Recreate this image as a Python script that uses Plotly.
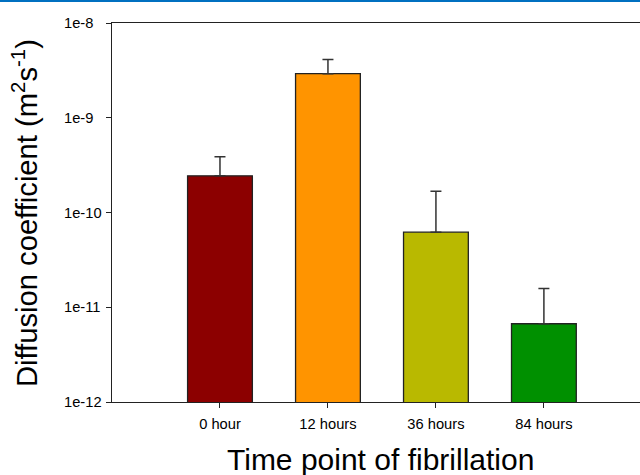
import math
import plotly.graph_objects as go

categories = ["0 hour", "12 hours", "36 hours", "84 hours"]
values = [2.44e-10, 2.92e-9, 6.2e-11, 6.7e-12]
err_upper = [1.44e-10, 1.2e-9, 1.06e-10, 9.1e-12]
colors = ["#8C0000", "#FF9400", "#B9B900", "#009000"]
ytick_vals = [1e-12, 1e-11, 1e-10, 1e-9, 1e-8]
ytick_text = ["1e-12", "1e-11", "1e-10", "1e-9", "1e-8"]

fig = go.Figure()
fig.add_trace(go.Bar(
    x=list(range(len(categories))),
    y=values,
    width=0.6,
    marker=dict(color=colors, line=dict(color="#222222", width=1.3)),
    error_y=dict(type="data", symmetric=False, array=err_upper,
                 arrayminus=[0] * len(values),
                 color="#333333", thickness=1.5, width=5.5),
))

fig.update_layout(
    width=640, height=475,
    margin=dict(l=112, r=0, t=23, b=73),
    paper_bgcolor="white", plot_bgcolor="white",
    showlegend=False,
    font=dict(family="Arial, Liberation Sans, sans-serif", color="black"),
    xaxis=dict(
        range=[-1, 3.89],
        tickvals=list(range(len(categories))),
        ticktext=categories,
        ticks="outside", ticklen=5, tickwidth=1.3, tickcolor="#222222",
        showline=True, linecolor="#222222", linewidth=1.3,
        mirror=True, showgrid=False, zeroline=False,
        tickfont=dict(size=14.7, color="black"),
        ticklabelstandoff=3,
    ),
    yaxis=dict(
        type="log", range=[-12, -8],
        tickvals=ytick_vals,
        showticklabels=False,
        ticks="outside", ticklen=5, tickwidth=1.3, tickcolor="#222222",
        showline=True, linecolor="#222222", linewidth=1.3,
        showgrid=False, zeroline=False,
    ),
)

# y tick labels are left-aligned in the reference
for v, t in zip(ytick_vals, ytick_text):
    fig.add_annotation(
        text=t, xref="paper", yref="y", x=-0.0947, y=math.log10(v),
        showarrow=False, xanchor="left", yanchor="middle",
        font=dict(size=14.7, color="black"),
    )

fig.add_annotation(
    text="Diffusion coefficient (m<sup>2</sup>s<sup>-1</sup>)",
    xref="paper", yref="paper", x=-0.167, y=0.498,
    textangle=-90, showarrow=False, xanchor="center", yanchor="middle",
    font=dict(size=29.2, color="black"),
)
fig.add_annotation(
    text="Time point of fibrillation",
    xref="paper", yref="paper", x=0.509, y=-0.152,
    showarrow=False, xanchor="center", yanchor="middle",
    font=dict(size=30, color="black"),
)
fig.add_shape(type="line", xref="paper", yref="paper",
              x0=-1, x1=2, y0=1.059, y1=1.059,
              line=dict(color="#0070C0", width=2.5))

fig.write_html("out.html")
